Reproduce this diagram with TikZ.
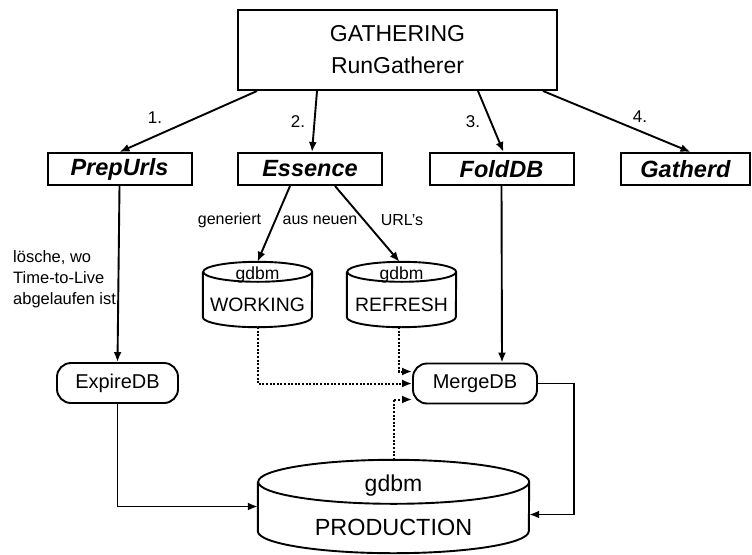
\documentclass[tikz,border=0pt]{standalone}
\usepackage{fontspec}
\setmainfont{Liberation Sans}
\usetikzlibrary{arrows.meta}

\tikzset{
	box/.style={rectangle,draw,line width=2pt,inner sep=0pt},
	tool/.style={box,minimum width=144,minimum height=32,font=\fontsize{23.5}{26}\selectfont\bfseries\itshape},
	dbbox/.style={rectangle,rounded corners=14,draw,line width=1.9pt,minimum height=40,inner sep=0pt},
	store/.style={rectangle,inner sep=0pt},
	link/.style={line width=1.9pt,-{Latex[length=10pt,width=8pt]}},
	dotlink/.style={link,line width=2pt,dash pattern=on 2pt off 1.6pt},
	note/.style={font=\fontsize{16}{18}\selectfont,inner sep=0pt},
}

% outline of a database drum round a named node: name, x radius, y radius
\newcommand{\drawdrum}[3]{%
	\draw [line width=1.9pt] ([yshift=-#3]#1.north west) -- ([yshift=#3]#1.south west)
		arc[start angle=180,end angle=360,x radius=#2,y radius=#3]
		-- ([yshift=-#3]#1.north east)
		arc[start angle=0,end angle=360,x radius=#2,y radius=#3];
}

\begin{document}
\begin{tikzpicture}[x=1pt,y=-1pt]
\useasboundingbox (0,0) rectangle (752,554);

\begin{scope}[every node/.style={box}]
	%Top
	\node (gather) [minimum width=319,minimum height=80,align=center,font=\fontsize{23}{32}\selectfont] at (397.5,50) {GATHERING\\RunGatherer};
\end{scope}

\begin{scope}[every node/.style={tool}]
	%Tools
	\node (prep) at (119.5,169) {PrepUrls};
	\node (essence) at (310,169) {Essence};
	\node (fold) at (501.5,169) {FoldDB};
	\node (gatherd) [minimum width=129] at (685.5,169) {Gatherd};
\end{scope}

\begin{scope}[every node/.style={store}]
	%Databases
	\node (working) [minimum width=109,minimum height=65] at (257.5,294.5) {};
	\node (refresh) [minimum width=109,minimum height=65] at (401.5,294.5) {};
	\node (production) [minimum width=271,minimum height=93] at (393.5,506.5) {};
\end{scope}
\drawdrum{working}{54.5pt}{10pt}
\drawdrum{refresh}{54.5pt}{10pt}
\drawdrum{production}{135.5pt}{22pt}

\begin{scope}[every node/.style={inner sep=0pt,anchor=base}]
	%Database labels
	\node (working_t) [font=\fontsize{17.5}{20}\selectfont] at (257.5,279) {gdbm};
	\node (working_b) [font=\fontsize{19.4}{22}\selectfont] at (257.5,311) {WORKING};
	\node (refresh_t) [font=\fontsize{17.5}{20}\selectfont] at (401.5,279) {gdbm};
	\node (refresh_b) [font=\fontsize{19.4}{22}\selectfont] at (401.5,311) {REFRESH};
	\node (production_t) [font=\fontsize{23}{26}\selectfont] at (393.5,491) {gdbm};
	\node (production_b) [font=\fontsize{23.4}{26}\selectfont] at (393.5,535) {PRODUCTION};
\end{scope}

\begin{scope}[every node/.style={dbbox,font=\fontsize{20}{23}\selectfont}]
	%Steps
	\node (expire) [minimum width=121] at (117.5,383) {ExpireDB};
	\node (merge) [minimum width=124] at (475,383.5) {MergeDB};
\end{scope}

\begin{scope}[every node/.style={note}]
	%Labels
	\node (n1) [font=\fontsize{17}{19}\selectfont] at (155,118) {1.};
	\node (n2) [font=\fontsize{17}{19}\selectfont] at (298,122) {2.};
	\node (n3) [font=\fontsize{17}{19}\selectfont] at (473,122) {3.};
	\node (n4) [font=\fontsize{17}{19}\selectfont] at (640,117) {4.};
	\node (gen) at (229.5,220) {generiert};
	\node (aus) at (320,220) {aus neuen};
	\node (urls) at (402,220) {URL's};
	\node (loesche) [align=left,anchor=north west,font=\fontsize{16.5}{21}\selectfont] at (13,250) {lösche, wo\\Time-to-Live\\abgelaufen ist};
\end{scope}

\begin{scope}
	%Run order
	\path [link] ([xshift=20]gather.south west) edge (prep.north);
	\path [link] ([xshift=80]gather.south west) edge ([xshift=2]essence.north);
	\path [link] ([xshift=-80]gather.south east) edge ([xshift=2]fold.north);
	\path [link] ([xshift=-15]gather.south east) edge ([xshift=5]gatherd.north);

	%Essence
	\path [link] ([xshift=-20]essence.south) edge (working.north);
	\path [link] ([xshift=25]essence.south) edge ([xshift=-2]refresh.north);

	%Expire and merge
	\path [link] (prep.south) edge (expire.north);
	\path [link] (fold.south) edge ([xshift=27]merge.north);
	\draw [dotlink] (working.south) |- (merge.west);
	\draw [dotlink] ([xshift=-3]refresh.south) |- ([yshift=12]merge.west);
	\draw [dotlink] (production.north) |- ([yshift=-16]merge.west);
	\draw [link] (expire.south) |- ([yshift=0]production.west);
	\draw [link] (merge.east) -- ++(36,0) |- ([yshift=-8]production.east);
\end{scope}
\end{tikzpicture}
\end{document}
